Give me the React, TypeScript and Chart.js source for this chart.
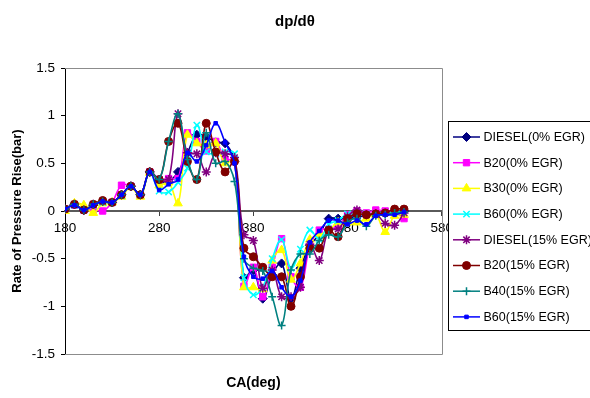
import React, { useEffect, useRef } from 'react';
import { Chart, registerables } from 'chart.js';
import { drawPoint } from 'chart.js/helpers';

Chart.register(...registerables);

const FONT = '"Liberation Sans", Arial, Helvetica, sans-serif';

const crankAngles = [180, 190, 200, 210, 220, 230, 240, 250, 260, 270, 280, 290, 300, 310, 320, 330, 340, 350, 360, 370, 380, 390, 400, 410, 420, 430, 440, 450, 460, 470, 480, 490, 500, 510, 520, 530, 540];

const diesel0 = [0.02, 0.07, 0.01, 0.06, 0.10, 0.09, 0.17, 0.26, 0.17, 0.41, 0.31, 0.31, 0.41, 0.61, 0.80, 0.78, 0.72, 0.71, 0.52, -0.70, -0.62, -0.92, -0.67, -0.55, -0.92, -0.60, -0.36, -0.25, -0.08, -0.08, -0.08, -0.06, -0.05, -0.03, -0.02, -0.01, 0.00];
const b20_0 = [0.02, 0.06, 0.01, 0.02, 0.00, 0.09, 0.27, 0.26, 0.17, 0.41, 0.33, 0.34, 0.34, 0.82, 0.73, 0.63, 0.73, 0.54, 0.53, -0.79, -0.59, -0.90, -0.59, -0.29, -0.69, -0.80, -0.37, -0.20, -0.19, -0.16, -0.04, 0.00, -0.02, 0.01, 0.00, -0.01, -0.08];
const b30_0 = [0.00, 0.08, 0.06, -0.02, 0.08, 0.09, 0.15, 0.25, 0.15, 0.40, 0.27, 0.30, 0.08, 0.80, 0.71, 0.69, 0.71, 0.50, 0.54, -0.80, -0.80, -0.82, -0.52, -0.41, -0.72, -0.55, -0.30, -0.25, -0.20, -0.12, -0.12, -0.12, -0.08, -0.04, -0.22, -0.05, -0.04];
const b60_0 = [0.02, 0.06, 0.01, 0.06, 0.09, 0.09, 0.16, 0.26, 0.17, 0.40, 0.21, 0.20, 0.30, 0.45, 0.90, 0.62, 0.60, 0.62, 0.60, -0.70, -0.88, -0.80, -0.50, -0.30, -0.60, -0.40, -0.20, -0.30, -0.14, -0.10, -0.03, -0.04, -0.03, -0.03, -0.02, -0.01, 0.00];
const diesel15 = [0.02, 0.07, 0.01, 0.07, 0.10, 0.09, 0.17, 0.26, 0.17, 0.41, 0.33, 0.33, 1.02, 0.61, 0.60, 0.41, 0.61, 0.60, 0.56, -0.25, -0.31, -0.81, -0.62, -0.90, -0.90, -0.80, -0.35, -0.52, -0.20, -0.19, -0.06, 0.01, -0.04, -0.03, -0.13, -0.15, -0.02];
const b20_15 = [0.02, 0.07, 0.01, 0.07, 0.11, 0.09, 0.17, 0.26, 0.17, 0.41, 0.33, 0.73, 0.92, 0.52, 0.33, 0.92, 0.62, 0.41, 0.52, -0.39, -0.48, -0.59, -0.69, -0.69, -1.00, -0.69, -0.39, -0.39, -0.20, -0.27, -0.08, -0.03, -0.04, -0.03, -0.02, 0.02, 0.02];
const b40_15 = [0.02, 0.07, 0.01, 0.07, 0.10, 0.09, 0.17, 0.26, 0.17, 0.41, 0.33, 0.73, 1.02, 0.54, 0.33, 0.82, 0.50, 0.52, 0.31, -0.50, -0.60, -0.63, -0.90, -1.20, -0.62, -0.45, -0.45, -0.31, -0.25, -0.27, -0.12, -0.08, -0.16, -0.05, -0.04, -0.02, -0.01];
const b60_15 = [0.02, 0.06, 0.01, 0.06, 0.10, 0.09, 0.17, 0.26, 0.17, 0.41, 0.22, 0.28, 0.33, 0.61, 0.52, 0.69, 0.92, 0.72, 0.50, -0.48, -0.69, -0.71, -0.63, -0.80, -0.90, -0.73, -0.33, -0.21, -0.10, -0.10, -0.14, -0.10, -0.14, -0.05, -0.04, -0.04, -0.01];

const seriesNames = ['DIESEL(0% EGR)', 'B20(0% EGR)', 'B30(0% EGR)', 'B60(0% EGR)', 'DIESEL(15% EGR)', 'B20(15% EGR)', 'B40(15% EGR)', 'B60(15% EGR)'];
const seriesValues = [diesel0, b20_0, b30_0, b60_0, diesel15, b20_15, b40_15, b60_15];
const seriesColors = ['#000080', '#FF00FF', '#FFFF00', '#00FFFF', '#800080', '#800000', '#008080', '#0000FF'];
const seriesMarkers = ['rectRot', 'rect', 'triangle', 'crossRot', 'star', 'circle', 'cross', 'rect'];
const markerRadius = [4.5, 4.5, 5, 4.5, 4.5, 4, 4, 2.5];

const xMin = 180;
const xMax = 580;
const xStep = 100;
const yMin = -1.5;
const yMax = 1.5;
const yStep = 0.5;

const framePlugin = {
  id: 'plotFrame',
  beforeDatasetsDraw(chart: any) {
    const { ctx, chartArea } = chart;
    const l = Math.round(chartArea.left);
    const r = Math.round(chartArea.right) + 0.5;
    const t = Math.round(chartArea.top) + 0.5;
    const b = Math.round(chartArea.bottom) + 0.5;
    ctx.save();
    ctx.strokeStyle = '#8c8c8c';
    ctx.lineWidth = 1;
    ctx.beginPath();
    ctx.moveTo(l, t);
    ctx.lineTo(r, t);
    ctx.lineTo(r, b);
    ctx.lineTo(l, b);
    ctx.stroke();
    ctx.restore();
  },
};

const boxLegendPlugin = {
  id: 'boxLegend',
  afterDraw(chart: any) {
    const { ctx, chartArea } = chart;
    const left = Math.round(chartArea.right) + 6.5;
    const top = Math.round(chartArea.top) + 53.5;
    const rowH = 25.7;
    ctx.save();
    ctx.fillStyle = '#ffffff';
    ctx.fillRect(left, top, 200, 209);
    ctx.strokeStyle = '#000000';
    ctx.lineWidth = 1;
    ctx.strokeRect(left, top, 200, 209);
    ctx.font = '12.5px ' + FONT;
    ctx.textBaseline = 'middle';
    ctx.textAlign = 'left';
    chart.data.datasets.forEach((ds: any, i: number) => {
      const y = top + 15.5 + i * rowH;
      const x0 = left + 4.5;
      const x1 = left + 31.5;
      ctx.strokeStyle = ds.borderColor;
      ctx.lineWidth = 1.5;
      ctx.beginPath();
      ctx.moveTo(x0, y);
      ctx.lineTo(x1, y);
      ctx.stroke();
      ctx.fillStyle = ds.pointBackgroundColor;
      ctx.strokeStyle = ds.pointBorderColor;
      ctx.lineWidth = ds.pointBorderWidth;
      drawPoint(ctx, { pointStyle: ds.pointStyle, rotation: 0, radius: ds.pointRadius, borderWidth: ds.pointBorderWidth }, (x0 + x1) / 2, y);
      ctx.fillStyle = '#000000';
      ctx.fillText(ds.label, left + 35, y + 0.5);
    });
    ctx.restore();
  },
};

export default function App() {
  const canvasRef = useRef<HTMLCanvasElement | null>(null);

  useEffect(() => {
    const canvas = canvasRef.current;
    if (!canvas) return;
    Chart.defaults.font.family = FONT;
    Chart.defaults.color = '#000000';

    const datasets = seriesNames.map((name, i) => ({
      label: name,
      data: crankAngles.map((a, j) => ({ x: a, y: seriesValues[i][j] })),
      borderColor: seriesColors[i],
      backgroundColor: seriesColors[i],
      pointBackgroundColor: seriesColors[i],
      pointBorderColor: seriesColors[i],
      pointStyle: seriesMarkers[i],
      pointRadius: markerRadius[i],
      pointBorderWidth: seriesMarkers[i] === 'crossRot' || seriesMarkers[i] === 'star' || seriesMarkers[i] === 'cross' ? 1.5 : 1,
      borderWidth: 1.6,
      tension: 0.4,
      fill: false,
      order: seriesNames.length - i,
    }));

    const chart = new Chart(canvas, {
      type: 'line',
      data: { datasets },
      plugins: [framePlugin, boxLegendPlugin],
      options: {
        responsive: false,
        animation: false,
        layout: { padding: 0 },
        plugins: {
          legend: { display: false },
          tooltip: { enabled: false },
          title: {
            display: true,
            text: 'dp/dθ',
            font: { size: 15, weight: 'bold', family: FONT },
            color: '#000000',
            padding: { top: 13, bottom: 37 },
          },
        },
        scales: {
          x: {
            type: 'linear',
            position: { y: 0 } as any,
            min: xMin,
            max: xMax,
            ticks: { stepSize: xStep, font: { size: 13.5 }, padding: 5, color: '#000000' },
            grid: { drawOnChartArea: false, drawTicks: true, tickLength: 4, color: '#404040' },
            border: { display: true, color: '#5a5a5a', width: 2 },
          },
          x2: {
            type: 'linear',
            position: 'bottom',
            min: xMin,
            max: xMax,
            grid: { display: false },
            border: { display: false },
            ticks: { display: false },
            title: { display: true, text: 'CA(deg)', font: { size: 14, weight: 'bold' }, color: '#000000', padding: { top: 0, bottom: 6.6 } },
            afterFit: (scale: any) => { scale.height = 44; },
          },
          y: {
            type: 'linear',
            position: 'left',
            min: yMin,
            max: yMax,
            ticks: { stepSize: yStep, font: { size: 13.5 }, padding: 6, color: '#000000', callback: (v: any) => String(v) },
            grid: { drawOnChartArea: false, drawTicks: true, tickLength: 4, color: '#000000' },
            border: { display: true, color: '#000000', width: 1 },
            title: { display: true, text: 'Rate of Pressure Rise(bar)', font: { size: 13, weight: 'bold' }, color: '#000000', padding: { top: 9.2, bottom: 0 } },
            afterFit: (scale: any) => { scale.width = 65; },
          },
          yLegendSpace: {
            type: 'linear',
            position: 'right',
            min: yMin,
            max: yMax,
            grid: { display: false },
            border: { display: false },
            ticks: { display: false },
            afterFit: (scale: any) => { scale.width = 148.3; },
          },
        },
      } as any,
    });
    return () => chart.destroy();
  }, []);

  return (
    <div style={{ position: 'fixed', left: 0, top: 0, width: 590, height: 398, background: '#ffffff' }}>
      <canvas ref={canvasRef} width={590} height={398} style={{ display: 'block' }} />
    </div>
  );
}
